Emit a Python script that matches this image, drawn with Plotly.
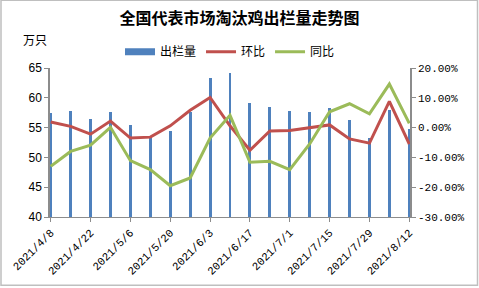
import plotly.graph_objects as go

dates = ["2021-04-08", "2021-04-15", "2021-04-22", "2021-04-29", "2021-05-06",
         "2021-05-13", "2021-05-20", "2021-05-27", "2021-06-03", "2021-06-10",
         "2021-06-17", "2021-06-24", "2021-07-01", "2021-07-08", "2021-07-15",
         "2021-07-22", "2021-07-29", "2021-08-05", "2021-08-12"]
volume = [57.5, 57.8, 56.5, 57.7, 55.5, 53.6, 54.4, 57.6, 63.3, 64.2,
          59.1, 58.5, 57.8, 57.7, 58.3, 56.2, 53.3, 58.0, 54.8]
mom = [1.9, 0.4, -2.2, 2.2, -3.5, -3.2, 0.6, 5.8, 10.1, 0.6,
       -7.6, -1.1, -1.0, -0.1, 0.9, -3.8, -5.2, 8.8, -5.5]
yoy = [-13.0, -8.0, -5.9, 0.1, -11.1, -14.1, -19.5, -16.9, -3.5, 4.1,
       -11.6, -11.3, -14.1, -5.5, 5.3, 8.0, 4.6, 14.6, 1.4]
tick_dates = dates[::2]
tick_labels = ["2021/4/8", "2021/4/22", "2021/5/6", "2021/5/20", "2021/6/3",
               "2021/6/17", "2021/7/1", "2021/7/15", "2021/7/29", "2021/8/12"]
left_ticks = [40, 45, 50, 55, 60, 65]
right_ticks = [-30, -20, -10, 0, 10, 20]
right_labels = ["-30.00%", "-20.00%", "-10.00%", "0.00%", "10.00%", "20.00%"]

W, H = 479, 288
L, R, T, B = 50, 410, 68.3, 217.3
pw, ph = R - L, B - T

BLUE = "#4F81BD"
RED = "#C0504D"
GREEN = "#9BBB59"
AX = "#8C8C8C"

fig = go.Figure()
fig.add_trace(go.Bar(x=dates, y=volume, name="出栏量", marker_color=BLUE,
                     marker_line_width=0, width=86400000 * 1.05, yaxis="y",
                     showlegend=False))
# legend entry drawn as a wide block like the original
fig.add_trace(go.Scatter(x=[None], y=[None], name="出栏量", mode="lines",
                         line=dict(color=BLUE, width=7), yaxis="y"))
fig.add_trace(go.Scatter(x=dates, y=mom, name="环比", mode="lines",
                         line=dict(color=RED, width=3), yaxis="y2"))
fig.add_trace(go.Scatter(x=dates, y=yoy, name="同比", mode="lines",
                         line=dict(color=GREEN, width=3), yaxis="y2"))

fig.update_layout(
    width=W, height=H,
    margin=dict(l=L, r=W - R, t=T, b=H - B, autoexpand=False),
    paper_bgcolor="white", plot_bgcolor="white",
    showlegend=True,
    title=dict(text="<b>全国代表市场淘汰鸡出栏量走势图</b>", x=0.5, xanchor="center",
               y=1 - 18 / H, yanchor="middle",
               font=dict(family="Noto Sans CJK SC", size=16, color="black")),
    legend=dict(orientation="h", x=0.5, xanchor="center", y=(B - 52) / ph, yanchor="middle",
                font=dict(family="Noto Sans CJK SC", size=12, color="black"),
                bgcolor="rgba(0,0,0,0)", itemwidth=30, tracegroupgap=0),
    xaxis=dict(type="date",
               range=["2021-04-07 18:00", "2021-08-12 06:00"],
               tickvals=tick_dates, ticktext=tick_labels, tickangle=-45,
               showgrid=False, zeroline=False,
               showline=True, linecolor=AX, linewidth=1,
               ticks="outside", ticklen=4, tickcolor=AX,
               tickfont=dict(family="Liberation Mono", size=11, color="black")),
    yaxis=dict(range=[40, 65], tickvals=left_ticks, showgrid=False, zeroline=False,
               showline=True, linecolor=AX, linewidth=1.5,
               ticks="outside", ticklen=4, tickcolor=AX,
               tickfont=dict(family="Liberation Sans", size=12, color="black")),
    yaxis2=dict(range=[-30, 20], tickvals=right_ticks, ticktext=right_labels,
                overlaying="y", side="right",
                showgrid=False, zeroline=False,
                showline=True, linecolor=AX, linewidth=1.5,
                ticks="outside", ticklen=4, tickcolor=AX,
                tickfont=dict(family="Liberation Mono", size=11, color="black")),
    annotations=[dict(text="万只", xref="paper", yref="paper",
                      x=(35 - L) / pw, y=(B - 40) / ph, xanchor="center", yanchor="middle",
                      showarrow=False,
                      font=dict(family="Noto Sans CJK SC", size=12, color="black"))],
    shapes=[dict(type="rect", xref="paper", yref="paper",
                 x0=(1 - L) / pw, x1=(477.5 - L) / pw,
                 y0=(B - 285.5) / ph, y1=(B - 0.5) / ph,
                 line=dict(color="#BFBFBF", width=1.5), layer="below")],
    bargap=0,
)

fig.write_html("out.html")
